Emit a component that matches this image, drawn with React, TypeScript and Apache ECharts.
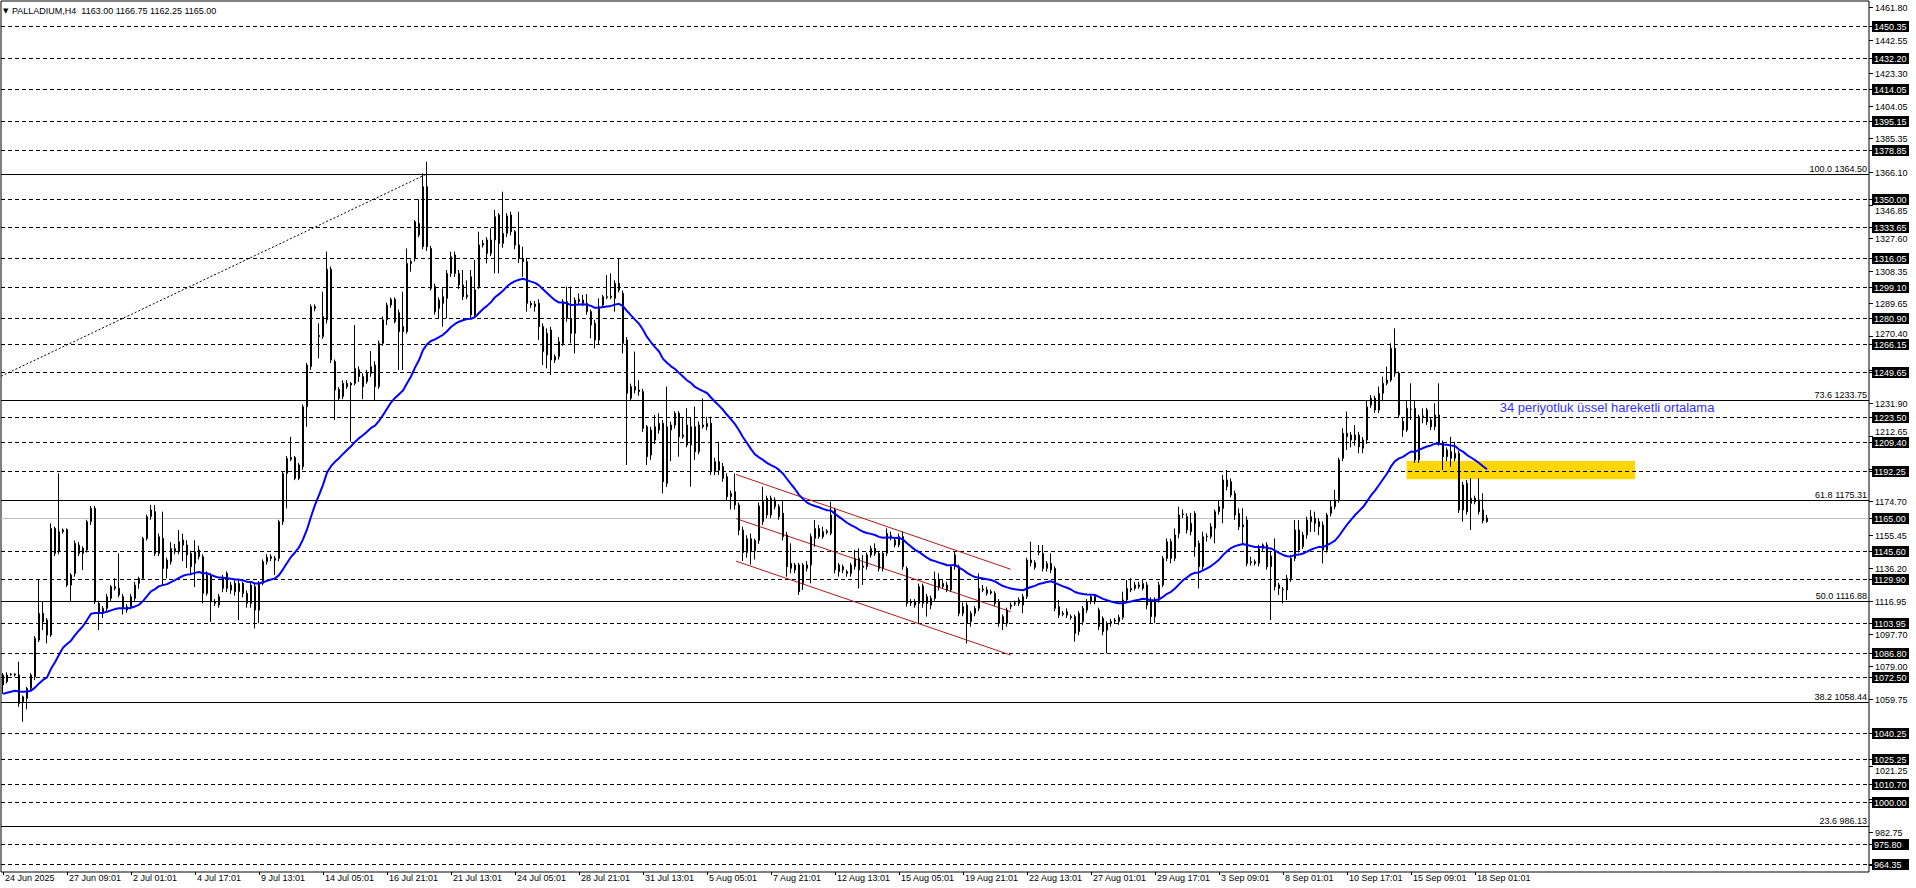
import React, { useEffect, useRef } from 'react';
import * as echarts from 'echarts';

// ---------- data ----------
const SYMBOL = 'PALLADIUM,H4';

const tickLabels = [
  '24 Jun 2025', '27 Jun 09:01', '2 Jul 01:01', '4 Jul 17:01', '9 Jul 13:01', '14 Jul 05:01',
  '16 Jul 21:01', '21 Jul 13:01', '24 Jul 05:01', '28 Jul 21:01', '31 Jul 13:01', '5 Aug 05:01',
  '7 Aug 21:01', '12 Aug 13:01', '15 Aug 05:01', '19 Aug 21:01', '22 Aug 13:01', '27 Aug 01:01',
  '29 Aug 17:01', '3 Sep 09:01', '8 Sep 01:01', '10 Sep 17:01', '15 Sep 09:01', '18 Sep 01:01',
];

const opens = [
  1068.1, 1070, 1074, 1074.5, 1073.9, 1058.4, 1060.4, 1066.2, 1072.9, 1094.2,
  1109.7, 1105.8, 1097.1, 1159, 1145.5, 1157.1, 1158.4, 1131.9, 1132.9, 1149.3,
  1147.4, 1146.5, 1162.9, 1170.6, 1115.5, 1109.7, 1112.6, 1118.4, 1125.2, 1124.2,
  1119.4, 1113.5, 1113.5, 1118.4, 1127.1, 1130, 1153.2, 1165.8, 1168.7, 1144.5,
  1153.2, 1140.6, 1139.7, 1145.5, 1145.5, 1149.3, 1149.3, 1144.5, 1138.7, 1146.5,
  1142.6, 1121.3, 1131.9, 1115.5, 1114.5, 1124.2, 1132.9, 1123.2, 1127.1, 1122.3,
  1127.1, 1121.3, 1115.5, 1125.2, 1111.6, 1127.1, 1139.7, 1141.6, 1141.6, 1141.6,
  1162.9, 1190.9, 1199.1, 1200.2, 1188, 1194.8, 1229.6, 1252.9, 1287.7, 1270.3,
  1270.3, 1280, 1309.4, 1255.8, 1239.7, 1235.5, 1243.2, 1243.2, 1243.2, 1251,
  1247.1, 1244.2, 1249, 1253.8, 1241.3, 1266.4, 1280, 1288.7, 1291.9, 1284.2,
  1276.1, 1273.2, 1313.8, 1315.7, 1336, 1322.5, 1357.3, 1321.5, 1299.3, 1286.7,
  1289.6, 1292.5, 1307, 1317.7, 1307, 1300.3, 1294.4, 1305, 1282.8, 1299.3,
  1324.4, 1326.4, 1318.6, 1326.4, 1340.9, 1324.4, 1330.2, 1340.9, 1331.2, 1323.5,
  1315.7, 1313.8, 1289.6, 1287.7, 1289.6, 1276.1, 1272.2, 1274.1, 1256.7, 1258.7,
  1266.4, 1290.6, 1280.9, 1272.2, 1290.6, 1289.6, 1289.6, 1284.8, 1278, 1268.3,
  1288.7, 1293, 1293.1, 1292.5, 1301.2, 1295.4, 1268.3, 1234.5, 1241.3, 1239.3,
  1238.4, 1218, 1201.6, 1210.3, 1216.1, 1220, 1185.2, 1216.1, 1219, 1225.8,
  1212.2, 1219, 1207.4, 1218, 1203.5, 1218, 1218, 1220, 1197.7, 1197.7,
  1194.8, 1189, 1177.4, 1180.3, 1172.6, 1158, 1145, 1153, 1146, 1152,
  1163, 1176.5, 1166.8, 1171.6, 1171.6, 1167.8, 1155.2, 1138.7, 1137.8, 1137.8,
  1127.1, 1135.8, 1137.8, 1153.2, 1154.2, 1157.1, 1157.5, 1156.1, 1169.7, 1133.9,
  1134.9, 1133.9, 1132.9, 1136.8, 1141.6, 1137.2, 1136.8, 1143.6, 1147.4, 1144.5,
  1135.8, 1144.5, 1154.2, 1152.3, 1149.4, 1154.2, 1135.8, 1116.5, 1116.5, 1115.5,
  1125.6, 1119.4, 1114.5, 1118.4, 1129.1, 1125.2, 1126.2, 1123.3, 1136.8, 1136.8,
  1109.7, 1114.5, 1104.9, 1109.7, 1112.6, 1123.8, 1123.3, 1122.3, 1121.3, 1116.5,
  1107.8, 1103.9, 1113.6, 1115.2, 1115.5, 1114.5, 1119.4, 1140.7, 1139.1, 1145,
  1144.5, 1135.8, 1138.7, 1135.8, 1113.6, 1109.7, 1108.7, 1107.8, 1107.8, 1099.1,
  1104.9, 1111.6, 1116.5, 1119.4, 1111.6, 1106.8, 1100, 1103.9, 1105.2, 1104.9,
  1107.4, 1117.5, 1123.3, 1124.2, 1126.2, 1124.2, 1126.2, 1117.4, 1107.8, 1117.4,
  1126.2, 1141.6, 1151.3, 1141.6, 1156.1, 1167, 1165.8, 1157.1, 1167.7, 1150.3,
  1136.8, 1154.2, 1154.2, 1159.1, 1168.7, 1170.6, 1187.1, 1186.1, 1179.3, 1167.7,
  1161, 1163.9, 1139.1, 1138.7, 1138.7, 1147.4, 1149.4, 1136.8, 1146.4, 1126.2,
  1123.6, 1123.3, 1130, 1141.6, 1158.1, 1148.4, 1155.2, 1162.9, 1164.8, 1162.9,
  1161, 1146.4, 1167.7, 1171.6, 1175.5, 1199.7, 1214.2, 1213.2, 1210.3, 1213.2,
  1205.5, 1210.3, 1230.5, 1234.5, 1227.7, 1237.4, 1243.2, 1245.1, 1263.5, 1249,
  1221, 1216.1, 1228.2, 1228.7, 1198.7, 1224.3, 1227.7, 1221.9, 1218, 1224.8,
  1208.4, 1200.6, 1203.5, 1199.7, 1202.6, 1169.7, 1185.2, 1173.5, 1176.5, 1175.5,
  1169.7, 1163,
];

const highs = [
  1075, 1075.5, 1075, 1075, 1081.6, 1062, 1067, 1075, 1096.5, 1129,
  1116.4, 1107, 1161.9, 1160, 1190.9, 1159, 1159, 1133, 1152, 1151,
  1148.5, 1164, 1172, 1172, 1117, 1114, 1121, 1126.1, 1130, 1144.5,
  1121, 1115, 1121, 1128, 1131, 1154, 1167, 1172.6, 1172.6, 1156,
  1168.7, 1142, 1151, 1150, 1158.1, 1156, 1152, 1146, 1152, 1149,
  1144, 1134, 1133, 1118, 1121, 1132, 1134, 1128, 1129, 1129,
  1128, 1123, 1128, 1127, 1128.5, 1141, 1144, 1144, 1143, 1164,
  1192, 1201, 1212.2, 1201, 1197, 1231, 1255, 1289, 1289, 1278,
  1296.4, 1319.6, 1311, 1257, 1241, 1245, 1245, 1244, 1277, 1253,
  1249, 1251, 1262, 1256, 1268, 1282, 1290, 1293, 1293, 1286,
  1296.4, 1321.5, 1315, 1338, 1350, 1365, 1371.8, 1323, 1301, 1293,
  1298.3, 1309, 1319.6, 1319.6, 1309, 1309, 1303, 1309, 1314.8, 1331.2,
  1326.4, 1328, 1333.1, 1343.8, 1342, 1354.4, 1342, 1342.8, 1332.1, 1342.8,
  1322.5, 1316, 1291, 1291, 1292, 1278, 1275, 1276, 1260, 1270,
  1292, 1299.3, 1299.3, 1293, 1295.4, 1294.5, 1295, 1286, 1280, 1292.5,
  1294.5, 1306, 1307, 1303, 1315.7, 1297, 1270, 1243, 1261.6, 1245,
  1240, 1219, 1218, 1224.8, 1225.8, 1222, 1241.3, 1221, 1227, 1227,
  1223, 1228.7, 1223, 1229.6, 1221, 1234.5, 1223.8, 1223.8, 1200, 1209.3,
  1197, 1191, 1181, 1190.9, 1174, 1160, 1155, 1156, 1153, 1174,
  1183.2, 1178, 1178, 1177, 1173, 1175.5, 1157, 1150.3, 1139, 1139,
  1139, 1140, 1156, 1163.9, 1161, 1160, 1158.5, 1174.5, 1171, 1139,
  1138, 1135, 1139, 1146.5, 1147.4, 1143.6, 1145, 1149, 1150.3, 1146,
  1146, 1159, 1157.1, 1154, 1156, 1157.1, 1137, 1118, 1118, 1127,
  1127, 1121, 1120, 1133.9, 1132.9, 1129, 1128, 1138, 1145.5, 1138,
  1116, 1116, 1111, 1114, 1132.9, 1126.2, 1125.2, 1123.5, 1122.5, 1118,
  1109, 1113, 1116, 1117, 1119, 1121, 1142, 1151.3, 1140.5, 1149.4,
  1149.4, 1140, 1144.5, 1137, 1117.5, 1111, 1112.6, 1109, 1109, 1111,
  1114, 1118, 1121, 1121, 1113, 1108, 1105, 1106.5, 1107, 1109,
  1122.3, 1129.1, 1130, 1128, 1128, 1129, 1128, 1119, 1119, 1128,
  1143, 1153.2, 1153, 1159, 1171.6, 1170, 1167.7, 1168, 1169, 1152,
  1157.1, 1156.1, 1162, 1170, 1175.5, 1190, 1192.9, 1188, 1181, 1170.6,
  1170.6, 1166, 1142.6, 1141, 1149.5, 1150.3, 1151, 1146, 1153.2, 1127.5,
  1125, 1132, 1143.5, 1163.9, 1163.9, 1157, 1165.8, 1169.7, 1168.7, 1165,
  1163, 1168, 1175.5, 1181.3, 1200, 1217.1, 1226.8, 1215, 1219, 1215,
  1212, 1233.5, 1236.4, 1236, 1241.3, 1247.1, 1252.9, 1266.4, 1275.1, 1250,
  1223, 1233.5, 1243.2, 1233.5, 1225, 1228.7, 1229, 1223, 1231.6, 1243.2,
  1210, 1206, 1212.2, 1209.3, 1204, 1186, 1187.1, 1188.1, 1178, 1188.1,
  1179.3, 1166.75,
];

const lows = [
  1063, 1069, 1073.5, 1073, 1055.5, 1046.8, 1054, 1065, 1071, 1093,
  1100, 1092.3, 1096, 1143, 1144, 1156, 1125, 1116.4, 1131, 1143,
  1134.8, 1145, 1161, 1115, 1100, 1107, 1111, 1117, 1123, 1119,
  1109, 1110, 1112, 1117, 1124, 1129, 1152, 1164, 1143, 1143,
  1126.1, 1130, 1138, 1144, 1144, 1140, 1136, 1132, 1125, 1141,
  1115.5, 1120, 1104.8, 1114, 1113, 1122, 1122, 1121, 1120, 1105.8,
  1119, 1113, 1113, 1101, 1104, 1126, 1138, 1140, 1131.9, 1140,
  1161, 1170.6, 1198, 1187, 1187, 1193, 1218, 1251, 1285, 1257.7,
  1269, 1278, 1255, 1221.9, 1233, 1234, 1240, 1209.3, 1242, 1244,
  1234, 1243, 1247, 1233, 1240, 1265, 1277, 1287, 1278, 1250.9,
  1250.9, 1272, 1308, 1314, 1328, 1321, 1320, 1297, 1283, 1280.9,
  1276.1, 1280.9, 1305, 1305, 1298, 1291.5, 1292, 1281, 1281, 1298,
  1322, 1312.8, 1317, 1307, 1307, 1322, 1328, 1329, 1321, 1313,
  1305, 1284.8, 1287, 1284.8, 1268.3, 1253.8, 1251.9, 1248, 1255, 1257,
  1265, 1279, 1266.4, 1260.6, 1289, 1288, 1283, 1269.3, 1263.5, 1266,
  1287, 1292, 1292, 1284.8, 1296, 1260.6, 1195.8, 1233, 1237.4, 1236,
  1215, 1195.8, 1198.7, 1208, 1214, 1179.3, 1183, 1198, 1217, 1200.6,
  1211, 1206, 1183.2, 1198.7, 1202, 1217, 1216, 1190, 1190, 1190,
  1186, 1175, 1170, 1170, 1155, 1140, 1142, 1138, 1141, 1150,
  1161, 1165, 1165, 1170, 1164, 1152, 1131, 1133, 1133, 1120.4,
  1123.3, 1134, 1127.1, 1148.4, 1153, 1153, 1155.5, 1155, 1132.9, 1131,
  1133, 1131, 1131, 1135, 1124.2, 1126.2, 1135, 1142, 1143, 1134,
  1134, 1143, 1152, 1148, 1148, 1135, 1113.6, 1114, 1113, 1103.9,
  1113, 1107.8, 1112, 1117, 1123, 1124, 1122, 1122, 1135, 1108,
  1108, 1092.3, 1102, 1108, 1111, 1122, 1120, 1120.5, 1114, 1102,
  1100, 1102, 1112, 1114, 1114, 1109.7, 1118, 1137, 1135, 1143.5,
  1134, 1134, 1133, 1111, 1107, 1108, 1107, 1106, 1093.3, 1097,
  1103, 1110, 1115, 1115, 1100, 1097, 1086.5, 1102, 1104, 1103,
  1106, 1116, 1122, 1123, 1124, 1123, 1112, 1103.9, 1104, 1116,
  1125, 1140, 1138.7, 1140, 1153.2, 1165, 1156, 1155, 1142.6, 1124.2,
  1135, 1151.3, 1153, 1150.3, 1167, 1162, 1181, 1177, 1163.9, 1158,
  1150.3, 1137, 1137.5, 1137.5, 1137, 1146, 1135, 1105.8, 1123, 1120.3,
  1115.5, 1117.4, 1128, 1140, 1145, 1147, 1153, 1157, 1157, 1155,
  1138.7, 1145, 1166, 1170, 1174, 1198, 1204.5, 1206, 1207, 1202.6,
  1202.6, 1208, 1229, 1226, 1226, 1233.5, 1242, 1244, 1247, 1223,
  1212.2, 1215, 1221.9, 1197, 1197, 1220, 1219, 1216, 1216, 1207,
  1192.9, 1198, 1194.8, 1198, 1168, 1162.9, 1167, 1158.1, 1173, 1167,
  1162, 1162.25,
];

const closes = [
  1073.9, 1073.9, 1074.5, 1074, 1057.4, 1061.3, 1066.2, 1073.9, 1095.2, 1109.7,
  1104.8, 1097.1, 1159, 1144.5, 1157.1, 1158.1, 1126.1, 1126.1, 1150.3, 1144.5,
  1144.5, 1162.9, 1170.6, 1116.4, 1110.6, 1112.6, 1119.4, 1125.2, 1124.2, 1120.3,
  1112.6, 1111.6, 1119.4, 1126.1, 1130, 1153.2, 1165.8, 1169.7, 1144.5, 1154.2,
  1135.8, 1135.8, 1147.4, 1147.4, 1151.3, 1152.3, 1143.6, 1136.8, 1145.5, 1142.6,
  1121.3, 1131.9, 1116.4, 1116.4, 1119.4, 1130, 1124.2, 1126.1, 1122.3, 1127.1,
  1121.3, 1115.5, 1126.1, 1111.6, 1127.1, 1139.7, 1142.2, 1142.6, 1140.6, 1162.9,
  1190.9, 1199.6, 1200.2, 1188, 1195.8, 1229.6, 1253.8, 1287.7, 1286.7, 1271,
  1281.9, 1309.4, 1256.7, 1239.3, 1234.5, 1243.2, 1241.3, 1242.2, 1251.9, 1247.1,
  1241.3, 1249, 1252.9, 1241.3, 1266.4, 1280, 1288.6, 1291.9, 1279, 1273.2,
  1273.2, 1312.8, 1312.8, 1337, 1329.3, 1357.3, 1322.5, 1298.3, 1284.8, 1291.5,
  1293.5, 1307, 1316.7, 1307, 1300.3, 1293.5, 1293.5, 1282.8, 1297.4, 1323.5,
  1323.5, 1318.6, 1326.4, 1339.9, 1324.4, 1330.2, 1340.3, 1331.2, 1323.5, 1315.7,
  1313.8, 1289.6, 1288.7, 1289.2, 1276.1, 1261.6, 1259.6, 1256.7, 1258.7, 1267.4,
  1290.6, 1280.9, 1272.2, 1291.5, 1291.9, 1291.5, 1284.8, 1277, 1268.3, 1287.7,
  1293.5, 1293.5, 1293.8, 1301.2, 1297.4, 1266.4, 1237.4, 1241.3, 1239.3, 1238.5,
  1217.1, 1200.6, 1216.1, 1218, 1220, 1186.1, 1218, 1219, 1225.8, 1212.2,
  1213.2, 1207.4, 1218, 1203.5, 1219, 1219, 1220, 1191.9, 1191.9, 1192.8,
  1188.1, 1177.4, 1179.3, 1172.6, 1158, 1145, 1153, 1146, 1152, 1172,
  1174.5, 1166.8, 1176.5, 1175.5, 1165.8, 1154.2, 1136.8, 1135.8, 1134.9, 1122.3,
  1137.8, 1137.8, 1154.2, 1159, 1159, 1154.2, 1156.7, 1166.8, 1134.9, 1137.8,
  1136.8, 1132.9, 1137.8, 1141.6, 1134.9, 1136.4, 1143.6, 1147.4, 1144.5, 1135.8,
  1144.5, 1156.1, 1154.8, 1149.4, 1154.2, 1136.8, 1115.5, 1115.8, 1114.5, 1125.2,
  1115.5, 1115.5, 1118.4, 1129.1, 1125.2, 1127.1, 1123.3, 1136.8, 1143.6, 1109.7,
  1113.6, 1103.9, 1109.7, 1112.6, 1124.2, 1123.3, 1121.3, 1121.5, 1115.5, 1103.9,
  1103.9, 1111.6, 1114.5, 1115.8, 1117.5, 1119.4, 1140.7, 1139.1, 1136.4, 1145.5,
  1135.8, 1138.7, 1134.9, 1112.6, 1108.7, 1109.2, 1110.7, 1107.3, 1098.1, 1109.7,
  1112.6, 1116.5, 1119.4, 1116.5, 1102, 1099.1, 1103.9, 1104.9, 1105.8, 1107.4,
  1117.5, 1124.2, 1124.2, 1126.2, 1125.2, 1127.1, 1114.5, 1107.8, 1117.4, 1126.2,
  1141.6, 1151.3, 1141.6, 1155.2, 1166.8, 1167.4, 1158.1, 1162, 1148.4, 1136.8,
  1154.2, 1154.5, 1160, 1168.7, 1171.6, 1187.1, 1183.2, 1178.4, 1166.8, 1160,
  1160, 1138.7, 1139.7, 1139.7, 1147.4, 1149.4, 1136.8, 1143, 1125.2, 1124.2,
  1123.3, 1130, 1141.6, 1158.1, 1146.4, 1155.2, 1163.9, 1165.8, 1161.9, 1160,
  1146.4, 1166.8, 1171.6, 1175.5, 1198.7, 1214.2, 1212.3, 1210.3, 1213.2, 1206.4,
  1210.3, 1229.6, 1234.5, 1227.7, 1237.4, 1243.2, 1245.1, 1263.5, 1249, 1224.8,
  1216.1, 1228.7, 1228.1, 1198.7, 1223.8, 1223.8, 1221, 1218, 1224.8, 1208.4,
  1200.6, 1204.5, 1199.7, 1202.6, 1169.7, 1184.2, 1168.7, 1176.5, 1174.5, 1168.7,
  1163.5, 1165,
];

const emaPeriod = 34;
const emaStart = 1062.3; // EMA value just before the first visible bar

const hLines = [
  1450.35, 1432.2, 1414.05, 1395.15, 1378.85, 1350.0, 1333.65, 1316.05, 1299.1, 1280.9,
  1266.15, 1249.65, 1223.5, 1209.4, 1192.25, 1145.6, 1129.9, 1103.95, 1086.8, 1072.5,
  1040.25, 1025.25, 1010.7, 1000.0, 975.8, 964.35,
];
const bidPrice = 1165.0;
const axisTicks = [
  1461.8, 1442.55, 1423.3, 1404.05, 1385.35, 1366.1, 1346.85, 1327.6, 1308.35, 1289.65,
  1270.4, 1251.15, 1231.9, 1212.65, 1193.4, 1174.7, 1155.45, 1136.2, 1116.95, 1097.7,
  1079.0, 1059.75, 1040.5, 1021.25, 1002.0, 982.75, 963.5,
];
const fibLevels = ['100.0', '73.6', '61.8', '50.0', '38.2', '23.6'];
const fibPrices = [1364.5, 1233.75, 1175.31, 1116.88, 1058.44, 986.13];
const fibTrendX = [-0.5, 105.8];
const fibTrendY = [1247.3, 1364.5];
const channelX = [183.25, 251.9];
const channelUpper = [1190.3, 1135.3];
const channelMiddle = [1164.7, 1110.7];
const channelLower = [1140.0, 1085.5];
const zoneX = [350.9, 408];
const zonePrice = [1198.1, 1187.5];
const noteText = '34 periyotluk üssel hareketli ortalama';
const notePos = [374.2, 1228.9];

// ---------- layout constants ----------
const SLOTS = 467;
const Y_MIN = 959.6;
const Y_MAX = 1465.07;
const FONT = "'Liberation Sans', Arial, sans-serif";

function buildOption() {
  const n = opens.length;
  const candles = opens.map((o, i) => [o, closes[i], lows[i], highs[i]]);
  const categories = Array.from({ length: SLOTS }, (_, i) => String(i));
  const k = 2 / (emaPeriod + 1);
  let prev = emaStart;
  const ema = closes.map((c) => {
    prev = prev + k * (c - prev);
    return +prev.toFixed(2);
  });

  const lineItems = [
    ...hLines.map((p) => ({ value: [-0.5, p, 0, 0] })),
    ...fibPrices.map((p, i) => ({ value: [-0.5, p, 1, i] })),
    { value: [-0.5, bidPrice, 2, 0] },
  ];
  const boxedPrices = [...hLines, bidPrice];
  const rightItems = [
    ...axisTicks.map((p) => ({ value: [SLOTS - 0.5, p, 0] })),
    ...boxedPrices.map((p) => ({ value: [SLOTS - 0.5, p, 1] })),
  ];
  const last = n - 1;
  const title = `${SYMBOL}  ${opens[last].toFixed(2)} ${highs[last].toFixed(2)} ${lows[last].toFixed(2)} ${closes[last].toFixed(2)}`;
  const showTick = (i: number) => i % 16 === 0 && i < n;

  return {
    animation: false,
    backgroundColor: '#ffffff',
    graphic: [
      {
        type: 'text',
        left: 3,
        top: 7,
        style: { text: '▼', fontSize: 7, fontFamily: 'DejaVu Sans', fill: '#000' },
      },
      {
        type: 'text',
        left: 12,
        top: 6,
        style: { text: title, fontSize: 9, fontFamily: FONT, fill: '#000' },
      },
    ],
    grid: {
      left: 1,
      top: 1,
      width: 1868,
      height: 871,
      show: true,
      borderColor: '#000',
      borderWidth: 1,
      backgroundColor: '#fff',
    },
    xAxis: [
      {
        type: 'category',
        data: categories,
        boundaryGap: true,
        axisLine: { show: false },
        axisTick: {
          show: true,
          alignWithLabel: true,
          interval: (i: number) => showTick(i),
          length: 3,
          lineStyle: { color: '#000' },
        },
        axisLabel: {
          interval: (i: number) => showTick(i),
          formatter: (_v: string, i: number) => (i % 16 === 0 ? tickLabels[i / 16] ?? '' : ''),
          align: 'left',
          margin: 1,
          padding: [0, 0, 0, 2],
          fontSize: 9,
          fontFamily: FONT,
          color: '#000',
        },
        splitLine: { show: false },
      },
      { type: 'value', min: -0.5, max: SLOTS - 0.5, show: false },
    ],
    yAxis: [
      {
        type: 'value',
        min: Y_MIN,
        max: Y_MAX,
        position: 'right',
        axisLine: { show: false },
        axisTick: { show: false },
        axisLabel: { show: false },
        splitLine: { show: false },
      },
    ],
    series: [
      {
        name: 'zone',
        type: 'line',
        xAxisIndex: 1,
        data: [],
        z: 1,
        markArea: {
          silent: true,
          itemStyle: { color: '#FFD700', opacity: 1 },
          data: [[{ coord: [zoneX[0], zonePrice[0]] }, { coord: [zoneX[1], zonePrice[1]] }]],
        },
      },
      {
        name: 'hlines',
        type: 'custom',
        xAxisIndex: 1,
        yAxisIndex: 0,
        z: 2,
        silent: true,
        encode: { x: 0, y: 1 },
        data: lineItems,
        renderItem: (_p: any, api: any) => {
          const price = api.value(1);
          const kind = api.value(2);
          const idx = api.value(3);
          const a = api.coord([-0.5, price]);
          const b = api.coord([SLOTS - 0.5, price]);
          const y = Math.round(a[1]) + 0.5;
          const style: any = { stroke: '#000', lineWidth: 1 };
          if (kind === 0) style.lineDash = [4, 3];
          if (kind === 2) style.stroke = '#c0c0c0';
          const children: any[] = [
            { type: 'line', shape: { x1: a[0], y1: y, x2: b[0], y2: y }, style },
          ];
          if (kind === 1) {
            children.push({
              type: 'text',
              x: b[0] - 2,
              y: y - 1,
              style: {
                text: `${fibLevels[idx]} ${price.toFixed(2)}`,
                fill: '#000',
                fontSize: 9,
                fontFamily: FONT,
                align: 'right',
                verticalAlign: 'bottom',
              },
            });
          }
          return { type: 'group', children };
        },
      },
      {
        name: 'fibTrend',
        type: 'line',
        xAxisIndex: 1,
        z: 3,
        symbol: 'none',
        silent: true,
        lineStyle: { color: '#000', width: 1, type: [2, 2] },
        data: [
          [fibTrendX[0], fibTrendY[0]],
          [fibTrendX[1], fibTrendY[1]],
        ],
      },
      ...[channelUpper, channelMiddle, channelLower].map((c) => ({
        type: 'line',
        xAxisIndex: 1,
        z: 3,
        symbol: 'none',
        silent: true,
        lineStyle: { color: '#b41818', width: 1 },
        data: [
          [channelX[0], c[0]],
          [channelX[1], c[1]],
        ],
      })),
      {
        name: 'PALLADIUM',
        type: 'candlestick',
        xAxisIndex: 0,
        z: 4,
        barWidth: 2,
        data: candles,
        itemStyle: {
          color: '#ffffff',
          color0: '#000000',
          borderColor: '#000000',
          borderColor0: '#000000',
          borderWidth: 1,
        },
      },
      {
        name: 'EMA 34',
        type: 'line',
        xAxisIndex: 0,
        z: 5,
        symbol: 'none',
        silent: true,
        lineStyle: { color: '#0000ff', width: 2 },
        data: ema,
      },
      {
        name: 'note',
        type: 'custom',
        xAxisIndex: 1,
        yAxisIndex: 0,
        z: 6,
        silent: true,
        encode: { x: 0, y: 1 },
        data: [notePos],
        renderItem: (_p: any, api: any) => {
          const pt = api.coord([api.value(0), api.value(1)]);
          return {
            type: 'text',
            x: pt[0],
            y: pt[1],
            style: {
              text: noteText,
              fill: '#3333ff',
              fontSize: 13,
              fontFamily: FONT,
              align: 'left',
              verticalAlign: 'middle',
            },
          };
        },
      },
      {
        name: 'priceAxis',
        type: 'custom',
        xAxisIndex: 1,
        yAxisIndex: 0,
        z: 7,
        silent: true,
        clip: false,
        encode: { x: 0, y: 1 },
        data: rightItems,
        renderItem: (_p: any, api: any) => {
          const price = api.value(1);
          const kind = api.value(2);
          const pt = api.coord([SLOTS - 0.5, price]);
          const x = Math.round(pt[0]);
          const y = Math.round(pt[1]);
          const txt = price.toFixed(2);
          const tick = {
            type: 'line',
            shape: { x1: x, y1: y + 0.5, x2: x + 4, y2: y + 0.5 },
            style: { stroke: '#000', lineWidth: 1 },
          };
          if (kind === 0) {
            // keep a plain scale label clear of a nearby boxed label when it would only partly overlap
            let ty = y;
            for (const bp of boxedPrices) {
              const by = Math.round(api.coord([SLOTS - 0.5, bp])[1]);
              const d = y - by;
              if (Math.abs(d) > 4 && Math.abs(d) < 11) ty = by + Math.sign(d) * 11;
            }
            return {
              type: 'group',
              children: [
                tick,
                {
                  type: 'text',
                  x: x + 6,
                  y: ty + 0.5,
                  style: { text: txt, fill: '#000', fontSize: 9, fontFamily: FONT, align: 'left', verticalAlign: 'middle' },
                },
              ],
            };
          }
          return {
            type: 'group',
            children: [
              tick,
              { type: 'rect', shape: { x: x + 3, y: y - 5, width: 37, height: 11 }, style: { fill: '#000' } },
              {
                type: 'text',
                x: x + 5,
                y: y + 0.5,
                style: { text: txt, fill: '#fff', fontSize: 9, fontFamily: FONT, align: 'left', verticalAlign: 'middle' },
              },
            ],
          };
        },
      },
    ],
  };
}

export default function App() {
  const ref = useRef<HTMLDivElement>(null);
  useEffect(() => {
    if (!ref.current) return;
    const chart = echarts.init(ref.current, undefined, { renderer: 'svg', width: 1916, height: 888 });
    chart.setOption(buildOption() as any);
    return () => chart.dispose();
  }, []);
  return (
    <div
      ref={ref}
      style={{ position: 'absolute', left: 0, top: 0, width: 1916, height: 888, background: '#fff' }}
    />
  );
}
